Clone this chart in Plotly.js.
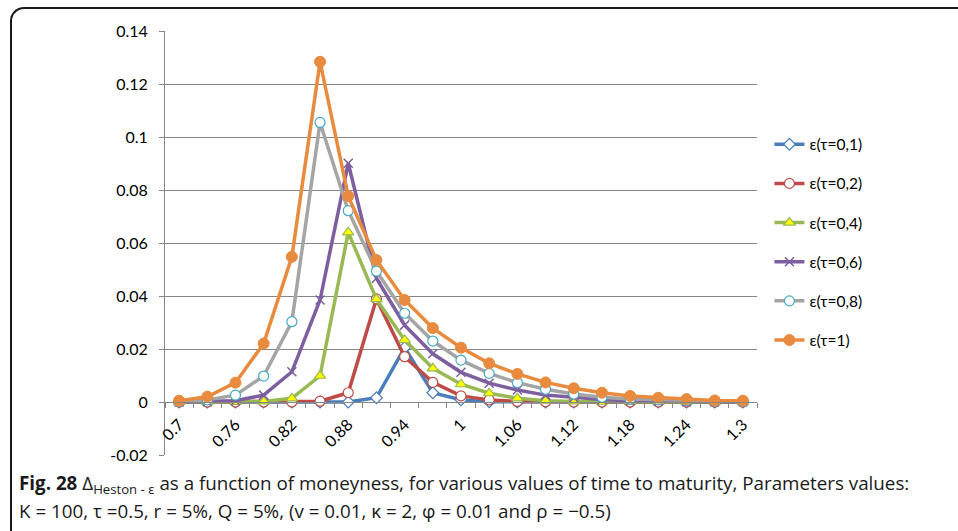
<!DOCTYPE html>
<html>
<head>
<meta charset="utf-8">
<script src="https://cdn.plot.ly/plotly-3.0.1.min.js"></script>
<style>
  html, body { margin:0; padding:0; background:#fff; }
  #wrap { position:relative; width:958px; height:531px; overflow:hidden; }
  #frame { position:absolute; left:10px; top:7px; width:960px; height:540px;
           border-left:2px solid #1a1a1a; border-top:2px solid #1a1a1a;
           border-top-left-radius:14px; }
  #chart { position:absolute; left:0; top:0; width:958px; height:531px; }
</style>
</head>
<body>
<div id="wrap">
  <div id="frame"></div>
  <div id="chart"></div>
</div>
<script>
// Moneyness categories
const moneyness = [0.70, 0.73, 0.76, 0.79, 0.82, 0.85, 0.88, 0.91, 0.94, 0.97, 1.00,
                   1.03, 1.06, 1.09, 1.12, 1.15, 1.18, 1.21, 1.24, 1.27, 1.30];
const tickValues = [0.70, 0.76, 0.82, 0.88, 0.94, 1.00, 1.06, 1.12, 1.18, 1.24, 1.30];
const tickLabels = ["0.7", "0.76", "0.82", "0.88", "0.94", "1", "1.06", "1.12", "1.18", "1.24", "1.3"];
const yTickValues = [-0.02, 0, 0.02, 0.04, 0.06, 0.08, 0.10, 0.12, 0.14];
const yTickLabels = ["-0.02", "0", "0.02", "0.04", "0.06", "0.08", "0.1", "0.12", "0.14"];

// Series values
const eps01 = [0, 0, 0, 0, 0, 0, 0, 0.0016, 0.0205, 0.0035, 0.0008, 0.0001, 0, 0, 0, 0, 0, 0, 0, 0, 0];
const eps02 = [0, 0, 0, 0, 0, 0.0003, 0.0035, 0.0389, 0.0171, 0.0074, 0.0023, 0.0008, 0.0002, 0.0001, 0, 0, 0, 0, 0, 0, 0];
const eps04 = [0, 0, 0, 0.0002, 0.0014, 0.0099, 0.0640, 0.0388, 0.0234, 0.0127, 0.0067, 0.0033, 0.0014, 0.0005, 0.0002, 0.0001, 0, 0, 0, 0, 0];
const eps06 = [0, 0.0001, 0.0005, 0.0026, 0.0114, 0.0385, 0.0901, 0.0467, 0.0290, 0.0182, 0.0112, 0.0071, 0.0045, 0.0026, 0.0016, 0.0009, 0.0005, 0.0003, 0.0001, 0.0001, 0.0001];
const eps08 = [0.0002, 0.0008, 0.0026, 0.0098, 0.0303, 0.1055, 0.0722, 0.0494, 0.0335, 0.0230, 0.0158, 0.0108, 0.0073, 0.0048, 0.0030, 0.0018, 0.0011, 0.0008, 0.0005, 0.0003, 0.0002];
const eps1  = [0.0005, 0.0020, 0.0073, 0.0221, 0.0548, 0.1284, 0.0777, 0.0536, 0.0385, 0.0279, 0.0205, 0.0146, 0.0106, 0.0074, 0.0052, 0.0035, 0.0023, 0.0016, 0.0011, 0.0006, 0.0005];

const seriesNames = ["ε(τ=0,1)", "ε(τ=0,2)", "ε(τ=0,4)", "ε(τ=0,6)", "ε(τ=0,8)", "ε(τ=1)"];
const seriesData = [eps01, eps02, eps04, eps06, eps08, eps1];
const lineColors = ["#4A7EBB", "#BE4B48", "#98B954", "#7D5FA0", "#A5A5A5", "#E98B3E"];
const markerStyles = [
  {symbol: "diamond", size: 9, color: "#FFFFFF", line: {color: "#4A7EBB", width: 1.2}},
  {symbol: "circle", size: 10, color: "#FFFFFF", line: {color: "#BE4B48", width: 1.2}},
  {symbol: "triangle-up", size: 10, color: "#FFFF00", line: {color: "#98B954", width: 1.2}},
  {symbol: "x-thin-open", size: 9, color: "#7D5FA0", line: {color: "#7D5FA0", width: 1.5}},
  {symbol: "circle", size: 10, color: "#FFFFFF", line: {color: "#46AAC5", width: 1.2}},
  {symbol: "circle", size: 11, color: "#E98B3E", line: {color: "#E98B3E", width: 1}}
];

const traces = seriesData.map((vals, i) => ({
  type: "scatter",
  mode: "lines+markers",
  x: moneyness,
  y: vals,
  name: seriesNames[i],
  legendgroup: "g" + i,
  line: {color: lineColors[i], width: 3.5},
  marker: markerStyles[i],
  cliponaxis: false
}));

// category boundaries for the tick marks (between categories)
const half = (moneyness[1] - moneyness[0]) / 2;
const boundaries = moneyness.map(v => v - half).concat([moneyness[moneyness.length - 1] + half]);

const yMin = -0.02, yMax = 0.14;

const layout = {
  width: 958, height: 531,
  margin: {l: 165, r: 201, t: 31, b: 76, pad: 0},
  paper_bgcolor: "rgba(0,0,0,0)",
  plot_bgcolor: "rgba(0,0,0,0)",
  font: {family: "Lato, 'Liberation Sans', sans-serif", size: 15, color: "#000"},
  showlegend: true,
  legend: {
    x: 1.021, xanchor: "left", y: 0.772, yanchor: "top",
    traceorder: "grouped", tracegroupgap: 16,
    font: {size: 15.5, color: "#000"},
    itemwidth: 30, bgcolor: "rgba(0,0,0,0)"
  },
  xaxis: {
    type: "linear",
    range: [boundaries[0], boundaries[boundaries.length - 1]],
    tickmode: "array", tickvals: tickValues, ticktext: tickLabels,
    tickangle: -45, ticks: "", ticklabelstandoff: 6,
    showgrid: false, zeroline: false,
    showline: true, linecolor: "#868686", linewidth: 1,
    anchor: "free", position: (0 - yMin) / (yMax - yMin),
    minor: {tickmode: "array", tickvals: boundaries, ticks: "outside", ticklen: 5, tickcolor: "#868686", showgrid: false},
    tickfont: {size: 16}
  },
  yaxis: {
    range: [yMin, yMax],
    tickmode: "array", tickvals: yTickValues, ticktext: yTickLabels,
    ticks: "outside", ticklen: 5, tickcolor: "#868686", ticklabelstandoff: 8,
    showgrid: true, gridcolor: "#868686", gridwidth: 1,
    zeroline: false,
    showline: true, linecolor: "#868686", linewidth: 1,
    tickfont: {size: 16}
  },
  annotations: [
    {xref: "paper", yref: "paper", x: -0.25, y: -0.105, xanchor: "left", yanchor: "bottom",
     showarrow: false, align: "left",
     font: {family: "'Open Sans', sans-serif", size: 18.8, color: "#1a1a1a"},
     text: "<b>Fig. 28</b> Δ<sub>Heston - ε</sub> as a function of moneyness, for various values of time to maturity, Parameters values:"},
    {xref: "paper", yref: "paper", x: -0.25, y: -0.168, xanchor: "left", yanchor: "bottom",
     showarrow: false, align: "left",
     font: {family: "'Open Sans', sans-serif", size: 18.8, color: "#1a1a1a"},
     text: "K = 100, τ =0.5, r = 5%, Q = 5%, (v = 0.01, κ = 2, φ = 0.01 and ρ = −0.5)"}
  ]
};

Plotly.newPlot("chart", traces, layout, {displayModeBar: false, staticPlot: true});
</script>
</body>
</html>
